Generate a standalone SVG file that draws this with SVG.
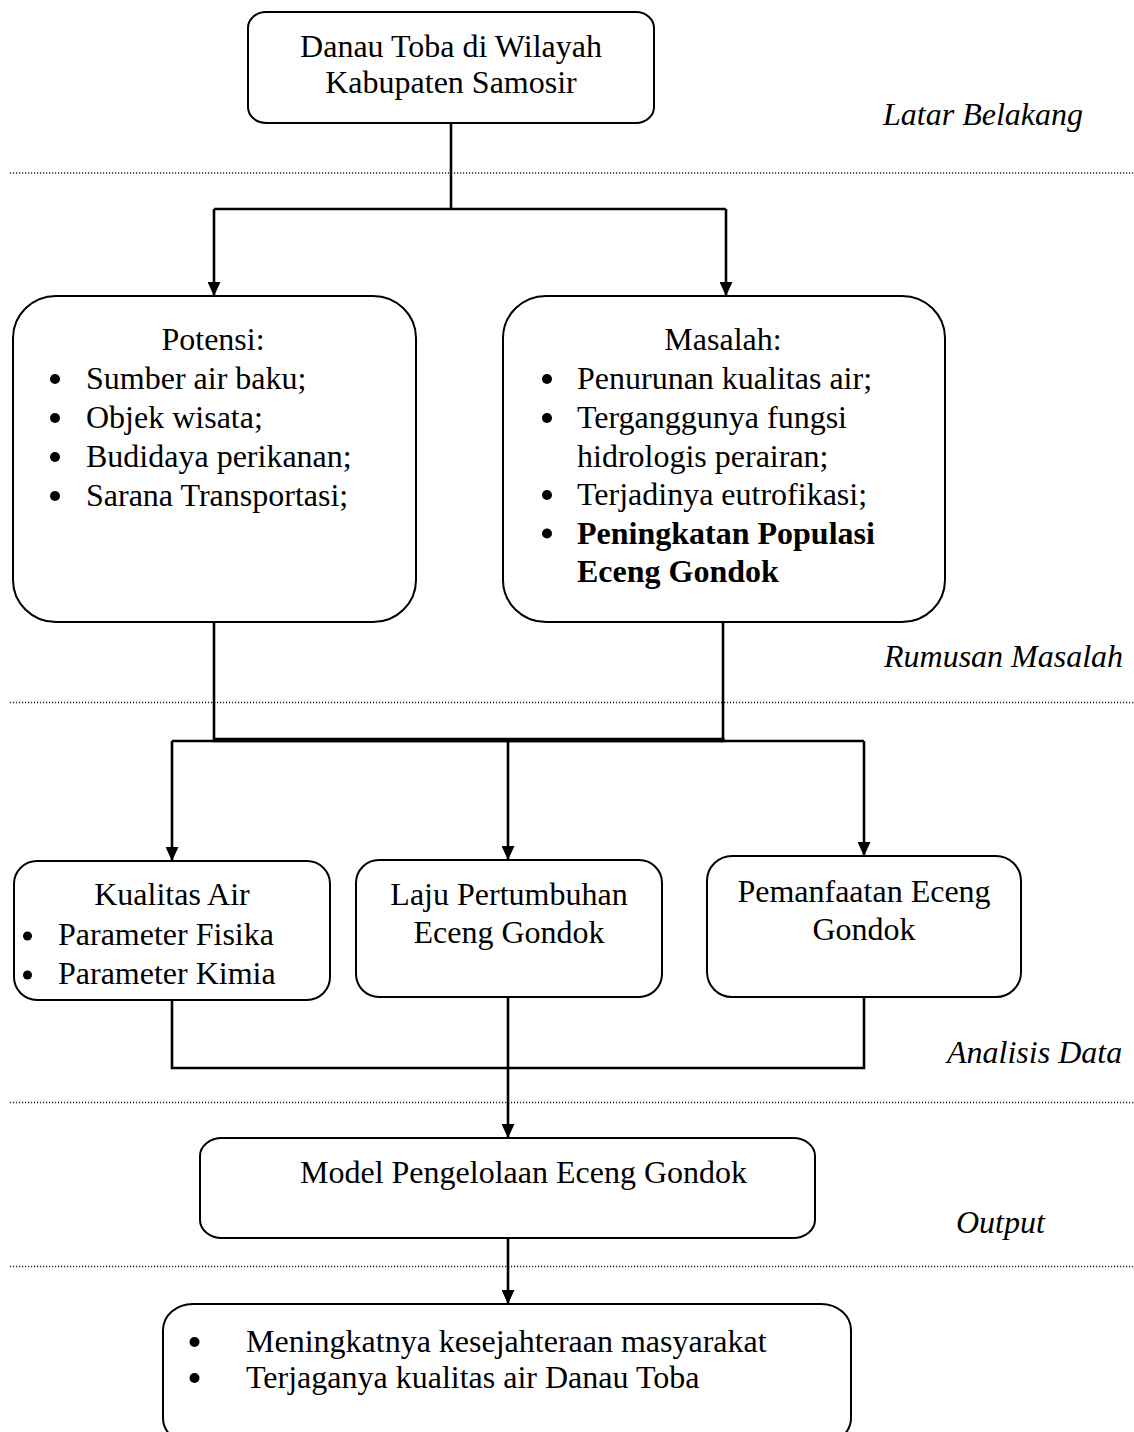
<svg xmlns="http://www.w3.org/2000/svg" width="1134" height="1432" viewBox="0 0 1134 1432">
<defs>
<style>
.box{fill:#fff;stroke:#000;stroke-width:2}
.t{font-family:"Liberation Serif","Times New Roman",serif;font-size:32px;fill:#000}
.c{text-anchor:middle}
.b{font-weight:bold}
.lbl{font-family:"Liberation Serif","Times New Roman",serif;font-size:32px;font-style:italic;fill:#000}
.dot{stroke:#222;stroke-width:1.4;stroke-dasharray:1.2 1.8;fill:none}
.ln{stroke:#000;stroke-width:2.6;fill:none}
.thick{stroke:#000;stroke-width:4.5;fill:none}
</style>
<marker id="ah" markerWidth="14" markerHeight="13" refX="14" refY="6.5" orient="auto" markerUnits="userSpaceOnUse">
<path d="M0,0 L14,6.5 L0,13 Z" fill="#000"/>
</marker>
</defs>
<rect width="1134" height="1432" fill="#fff"/>

<g id="section-lines">
<line class="dot" x1="10" y1="173" x2="1134" y2="173"/>
<line class="dot" x1="10" y1="702.5" x2="1134" y2="702.5"/>
<line class="dot" x1="10" y1="1102.5" x2="1134" y2="1102.5"/>
<line class="dot" x1="10" y1="1266.5" x2="1134" y2="1266.5"/>
</g>

<g id="section-labels">
<text class="lbl" x="883" y="125">Latar Belakang</text>
<text class="lbl" x="884" y="667">Rumusan Masalah</text>
<text class="lbl" x="947" y="1063">Analisis Data</text>
<text class="lbl" x="956" y="1233">Output</text>
</g>

<g id="connectors">
<polyline class="ln" points="451,123 451,209"/>
<polyline class="ln" points="214,209 726,209"/>
<line class="ln" x1="214" y1="209" x2="214" y2="296" marker-end="url(#ah)"/>
<line class="ln" x1="726" y1="209" x2="726" y2="296" marker-end="url(#ah)"/>
<polyline class="ln" points="214,622 214,740"/>
<polyline class="ln" points="723,622 723,740"/>
<polyline class="thick" points="213,740 724.5,740"/>
<polyline class="ln" points="172,741 864,741"/>
<line class="ln" x1="172" y1="741" x2="172" y2="861" marker-end="url(#ah)"/>
<line class="ln" x1="508" y1="741" x2="508" y2="860" marker-end="url(#ah)"/>
<line class="ln" x1="864" y1="741" x2="864" y2="856" marker-end="url(#ah)"/>
<polyline class="ln" points="172,1000 172,1068 864,1068 864,997"/>
<line class="ln" x1="508" y1="997" x2="508" y2="1138" marker-end="url(#ah)"/>
<line class="ln" x1="508" y1="1238" x2="508" y2="1304" marker-end="url(#ah)"/>
</g>

<g id="node-danau-toba">
<rect class="box" x="248" y="12" width="406" height="111" rx="18" ry="16"/>
<text class="t c" x="451" y="57">Danau Toba di Wilayah</text>
<text class="t c" x="451" y="93">Kabupaten Samosir</text>
</g>

<g id="node-potensi">
<rect class="box" x="13" y="296" width="403" height="326" rx="43" ry="42"/>
<text class="t c" x="213" y="350">Potensi:</text>
<circle cx="55" cy="379" r="5"/>
<text class="t" x="86" y="389">Sumber air baku;</text>
<circle cx="55" cy="418" r="5"/>
<text class="t" x="86" y="428">Objek wisata;</text>
<circle cx="55" cy="457" r="5"/>
<text class="t" x="86" y="467">Budidaya perikanan;</text>
<circle cx="55" cy="496" r="5"/>
<text class="t" x="86" y="506">Sarana Transportasi;</text>
</g>

<g id="node-masalah">
<rect class="box" x="503" y="296" width="442" height="326" rx="43" ry="42"/>
<text class="t c" x="723" y="350">Masalah:</text>
<circle cx="547" cy="379" r="5"/>
<text class="t" x="577" y="389">Penurunan kualitas air;</text>
<circle cx="547" cy="418" r="5"/>
<text class="t" x="577" y="428">Terganggunya fungsi</text>
<text class="t" x="577" y="466.5">hidrologis perairan;</text>
<circle cx="547" cy="495" r="5"/>
<text class="t" x="577" y="505">Terjadinya eutrofikasi;</text>
<circle cx="547" cy="533.5" r="5"/>
<text class="t b" x="577" y="543.5">Peningkatan Populasi</text>
<text class="t b" x="577" y="582">Eceng Gondok</text>
</g>

<g id="node-kualitas-air">
<rect class="box" x="14" y="861" width="316" height="139" rx="23" ry="23"/>
<text class="t c" x="172" y="905">Kualitas Air</text>
<circle cx="27.5" cy="936" r="4.5"/>
<text class="t" x="58" y="945">Parameter Fisika</text>
<circle cx="27.5" cy="975" r="4.5"/>
<text class="t" x="58" y="984">Parameter Kimia</text>
</g>

<g id="node-laju">
<rect class="box" x="356" y="860" width="306" height="137" rx="23" ry="23"/>
<text class="t c" x="509" y="905">Laju Pertumbuhan</text>
<text class="t c" x="509" y="943">Eceng Gondok</text>
</g>

<g id="node-pemanfaatan">
<rect class="box" x="707" y="856" width="314" height="141" rx="25" ry="25"/>
<text class="t c" x="864" y="902">Pemanfaatan Eceng</text>
<text class="t c" x="864" y="940">Gondok</text>
</g>

<g id="node-model">
<rect class="box" x="200" y="1138" width="615" height="100" rx="22" ry="18"/>
<text class="t" x="300" y="1183">Model Pengelolaan Eceng Gondok</text>
</g>

<g id="node-hasil">
<rect class="box" x="163" y="1304" width="688" height="140" rx="30" ry="26"/>
<circle cx="194.5" cy="1342" r="5"/>
<text class="t" x="246" y="1352">Meningkatnya kesejahteraan masyarakat</text>
<circle cx="194.5" cy="1378" r="5"/>
<text class="t" x="246" y="1388">Terjaganya kualitas air Danau Toba</text>
</g>
</svg>
